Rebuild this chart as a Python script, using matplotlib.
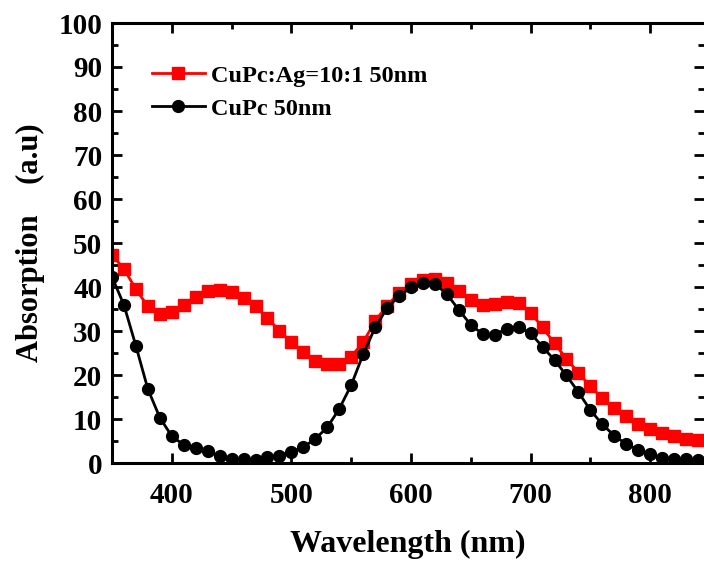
import matplotlib
matplotlib.use('Agg')
import matplotlib.pyplot as plt
from matplotlib.ticker import MultipleLocator

plt.rcParams['font.family'] = 'Liberation Serif'
plt.rcParams['font.weight'] = 'bold'
plt.rcParams['axes.labelweight'] = 'bold'

wavelength = list(range(350, 850, 10))

# CuPc:Ag=10:1 50nm
ag_film = [47.3, 44.1, 39.5, 35.6, 33.9, 34.4, 36.0, 37.8, 39.1, 39.4,
           38.9, 37.6, 35.6, 32.9, 30.1, 27.4, 25.2, 23.2, 22.5, 22.6,
           24.2, 27.4, 32.3, 35.7, 38.7, 40.6, 41.6, 41.8, 41.0, 39.2,
           37.1, 36.0, 36.2, 36.5, 36.3, 34.2, 30.8, 27.2, 23.7, 20.5,
           17.4, 14.7, 12.4, 10.6, 8.8, 7.7, 6.9, 6.1, 5.4, 5.2]

# CuPc 50nm
cupc = [42.3, 35.9, 26.6, 16.8, 10.3, 6.1, 4.1, 3.3, 2.7, 1.6,
        0.9, 0.9, 0.7, 1.3, 1.7, 2.6, 3.6, 5.5, 8.1, 12.3,
        17.7, 24.7, 30.8, 35.2, 38.0, 39.9, 41.0, 40.7, 38.4, 34.8,
        31.4, 29.3, 29.2, 30.5, 30.8, 29.5, 26.4, 23.4, 19.9, 16.1,
        12.0, 8.8, 6.2, 4.3, 3.0, 2.0, 1.2, 0.9, 0.9, 0.7]

fig = plt.figure(figsize=(7.04, 5.61), dpi=100)
ax = fig.add_axes([112/704, 98/561, 592/704, 440/561])

ax.plot(wavelength, ag_film, color='#ff0000', lw=2, marker='s', ms=8,
        label='CuPc:Ag=10:1 50nm')
ax.plot(wavelength, cupc, color='black', lw=2, marker='o', ms=8.5,
        label='CuPc 50nm')

ax.set_xlim(350, 845)
ax.set_ylim(0, 100)
ax.xaxis.set_major_locator(MultipleLocator(100))
ax.xaxis.set_minor_locator(MultipleLocator(50))
ax.yaxis.set_major_locator(MultipleLocator(10))
ax.yaxis.set_minor_locator(MultipleLocator(5))

for s in ['left', 'bottom', 'top']:
    ax.spines[s].set_linewidth(2.2)
ax.spines['right'].set_visible(False)

ax.tick_params(which='both', direction='in', top=True, right=True, width=2)
ax.tick_params(which='major', length=7, labelsize=21)
ax.tick_params(axis='x', which='major', pad=14)
ax.tick_params(axis='y', which='major', pad=7)
ax.tick_params(which='minor', length=4)

ax.set_xlabel('Wavelength (nm)', fontsize=23, labelpad=15)
ax.set_ylabel('Absorption    (a.u)', fontsize=22, labelpad=10)

ax.legend(loc='upper left', bbox_to_anchor=(0.03, 0.955), frameon=False,
          fontsize=17.5, handlelength=2.2, handletextpad=0.25, labelspacing=0.45)

fig.savefig('out.png', dpi=100)
